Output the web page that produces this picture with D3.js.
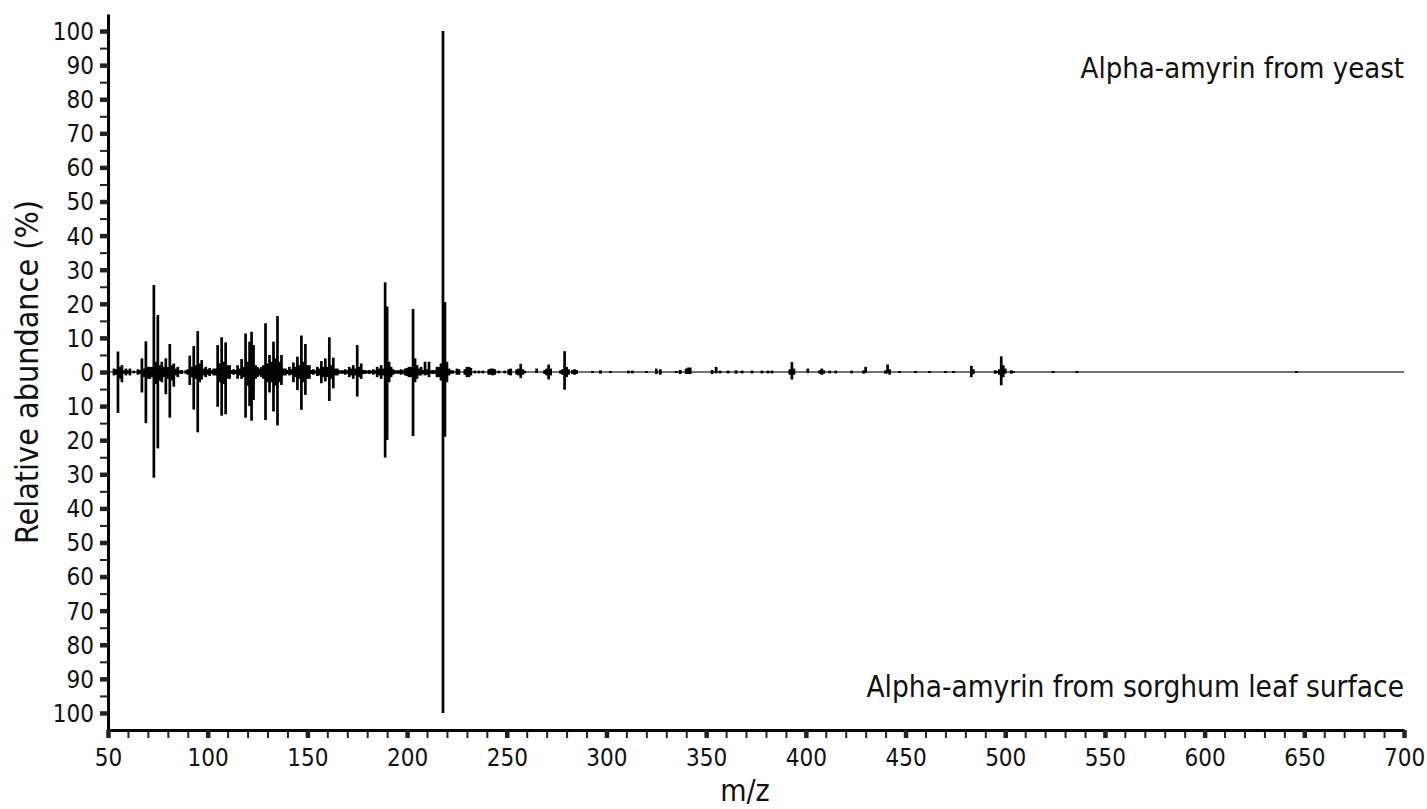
<!DOCTYPE html>
<html><head><meta charset="utf-8">
<script src="https://cdn.jsdelivr.net/npm/d3@7"></script>
<style>
html,body{margin:0;padding:0;background:#fff;}
svg{display:block;}
text{font-family:"Liberation Sans Narrow","DejaVu Sans Condensed","Arial Narrow",sans-serif;fill:#111;}
</style></head>
<body>
<svg id="chart" width="1427" height="809"></svg>
<script>
// m/z positions of peaks
const mzValues = [53,54,55,56,57,58,59,60,61,63,65,66,67,68,69,70,71,72,73,74,75,76,77,78,79,80,81,82,83,84,85,86,87,89,90,
91,92,93,94,95,96,97,98,99,100,101,102,103,104,105,106,107,108,109,110,111,112,113,114,115,116,117,118,119,120,121,122,123,124,
125,126,127,128,129,130,131,132,133,134,135,136,137,138,139,140,141,142,143,144,145,146,147,148,149,150,151,152,153,154,155,156,
157,158,159,160,161,162,163,164,165,166,167,168,169,170,171,172,173,174,175,176,177,178,179,180,181,182,183,184,185,186,187,188,
189,190,191,192,193,194,195,196,197,198,199,200,201,202,203,204,205,206,207,208,209,210,211,212,213,214,215,216,217,218,219,220,
221,222,223,225,226,229,230,231,232,234,236,238,241,242,243,244,246,249,251,252,255,256,257,258,259,265,269,270,271,272,277,278,
279,280,281,283,284,285,293,297,302,311,313,320,325,327,335,337,340,341,342,353,355,357,361,365,368,373,378,381,383,392,393,394,
401,407,408,409,412,415,423,429,430,440,441,442,447,455,462,470,474,483,484,495,496,497,498,499,500,503,504,524,536,646];
// Relative abundance (%) – alpha-amyrin from yeast (upper trace)
const yeastValues = [1,0.8,6,1.5,2,0.5,1,0.5,1,0.4,0.8,0.6,4,1,9,1.5,1.5,1.5,25.5,3,16.7,2,3,1.5,4,1.5,8.2,2,2.5,1,1.5,0.5,0.6,0.5,0.8,
4.8,1.5,7.6,2,12,2.5,3.5,1,1.5,0.8,1.2,0.5,1,1,7.9,2.5,10.2,3,8.7,2,2,0.6,0.8,0.6,2,1,3.8,1.5,11.3,3,8.9,11.8,7.9,2,
1.5,1,1.5,2,14.3,2.5,5,3,8.9,4,16.4,3,5,1,1,0.6,1.5,0.8,2.8,1.5,4.5,2,10.7,3,8.2,2,2,0.6,0.8,0.5,1.5,1,
3.2,1.5,4,1.5,10.2,2,4.2,1,1,0.5,0.5,0.5,0.8,0.5,1.5,1,2,1,7.9,1.5,2.5,0.6,0.6,0.4,0.6,0.4,0.8,0.5,1.5,1,2,1,
26.3,19.2,3,1.5,0.8,0.5,0.5,0.5,0.8,0.5,1,1.2,1.5,1.5,18.5,4,2,1,1.5,0.6,3,0.8,3,0.5,0.6,0.5,1.5,1.5,2.5,100,20.5,3,
1,0.5,0.5,1,0.8,0.8,1.5,1.5,1.2,0.4,0.4,0.4,0.8,1,1,0.8,0.4,0.4,0.8,1,0.8,1,2.4,0.8,0.4,1,0.6,1,2.2,1,0.5,0.8,
6.1,1.5,0.8,0.6,0.8,0.6,0.3,0.5,0.3,0.4,0.4,0.3,1,0.8,0.3,0.6,1,1.3,1.3,0.6,1.5,0.4,0.4,0.5,0.4,0.4,0.4,0.4,0.4,0.8,2.9,1,
1,0.5,1,0.5,0.4,0.4,0.4,0.5,1.5,0.5,2.2,0.8,0.3,0.3,0.3,0.3,0.3,1.8,0.8,0.5,0.3,0.8,4.6,2,1,0.5,0.3,0.3,0.3,0.3];
// Relative abundance (%) – alpha-amyrin from sorghum leaf surface (lower, mirrored trace)
const sorghumValues = [1,0.8,12,2,3,0.5,1,0.5,1,0.4,0.8,0.6,6,1.5,15,2,2,1.5,31,3.5,22.4,2.5,3,1.5,6.5,2,13.4,2.5,4.3,1,1.5,0.5,0.6,0.5,0.8,
3.8,1.5,11,2,17.7,3,2.2,1,1.5,0.8,1.2,0.5,1,1,10.2,3,12.8,3.5,12.4,2,2,0.6,0.8,0.6,2,1,2,1.5,13.4,4,10,14.3,8.2,2,
1.5,1,1.5,2,14.1,3,6,3,11.6,4,15.7,3,3.8,1,1,0.6,1,0.8,3,1.5,5.3,2,11.1,3,6.7,2,2,0.6,0.8,0.5,1.2,1,
3.3,1.5,2.8,1.5,8.5,2,4.8,1,1,0.5,0.5,0.5,0.8,0.5,1.5,1,2,1,7.2,1.5,2,0.6,0.6,0.4,0.6,0.4,0.8,0.5,1.5,1,2,1,
25.1,19.9,3,1.5,0.8,0.5,0.5,0.5,0.8,0.5,1,1.2,1.5,1.5,18.8,3,2,1,1,0.6,1,0.8,1.5,0.5,0.6,0.5,1.5,1.5,2.5,100,19,3,
1,0.5,0.5,0.8,0.8,0.8,1.5,1.5,1,0.4,0.4,0.4,0.8,0.8,1,0.8,0.4,0.4,0.8,1,0.8,1,1.8,0.8,0.4,0.3,0.6,1,2.2,1,0.5,0.8,
5.2,1.5,0.8,0.6,0.8,0.6,0.3,0.5,0.3,0.4,0.4,0.3,0.6,0.8,0.3,0.6,0.6,0.6,0.6,0.6,0.4,0.4,0.4,0.5,0.4,0.4,0.4,0.4,0.4,0.8,2.2,0.8,
0.3,0.5,0.8,0.5,0.4,0.4,0.4,0.5,0.3,0.5,0.4,0.8,0.3,0.3,0.3,0.3,0.3,1.5,0.6,0.5,0.3,0.8,3.9,1.5,0.5,0.5,0.3,0.3,0.3,0.3];

const xTickMajor = [50,100,150,200,250,300,350,400,450,500,550,600,650,700];
const yTickMajor = [-100,-90,-80,-70,-60,-50,-40,-30,-20,-10,0,10,20,30,40,50,60,70,80,90,100];
const upperLabel = "Alpha-amyrin from yeast";
const lowerLabel = "Alpha-amyrin from sorghum leaf surface";
const xTitle = "m/z";
const yTitle = "Relative abundance (%)";

const svg = d3.select("#chart");
const x = d3.scaleLinear().domain([50,700]).range([108,1404]);
const y = d3.scaleLinear().domain([-105,105]).range([730,14]);

const peaks = mzValues.map((m,i)=>({mz:m, up:yeastValues[i], down:sorghumValues[i]}));

// baseline
svg.append("line").attr("x1",x(50)+2).attr("x2",x(700)).attr("y1",y(0)).attr("y2",y(0))
  .attr("stroke","#444").attr("stroke-width",1.3);

const g = svg.append("g");
g.selectAll("line.up").data(peaks).join("line").attr("class","up")
  .attr("x1",d=>x(d.mz)).attr("x2",d=>x(d.mz))
  .attr("y1",y(0)+0.5).attr("y2",d=>y(d.up))
  .attr("stroke","#000").attr("stroke-width",2.7);
g.selectAll("line.down").data(peaks).join("line").attr("class","down")
  .attr("x1",d=>x(d.mz)).attr("x2",d=>x(d.mz))
  .attr("y1",y(0)-0.5).attr("y2",d=>y(-d.down))
  .attr("stroke","#000").attr("stroke-width",2.7);

// Y axis
const yMinor = yTickMajor.slice(0,-1).map(v=>v+5);
const yMinAx = svg.append("g").attr("transform",`translate(${x(50)},0)`)
  .call(d3.axisLeft(y).tickValues(yMinor).tickSize(8).tickFormat(""));
yMinAx.select(".domain").remove();
yMinAx.selectAll(".tick line").attr("stroke","#222").attr("stroke-width",2);
const yAx = svg.append("g").attr("transform",`translate(${x(50)},0)`)
  .call(d3.axisLeft(y).tickValues(yTickMajor).tickSize(8).tickSizeOuter(0).tickPadding(6).tickFormat(d=>Math.abs(d)));
yAx.select(".domain").attr("stroke","#000").attr("stroke-width",3);
yAx.selectAll(".tick line").attr("stroke","#222").attr("stroke-width",4.5);
yAx.selectAll(".tick text").attr("font-size",24).attr("font-family",null).attr("fill","#111").attr("dy","0.35em");

// X axis
const xMinor = d3.range(60,700,10).filter(v=>v%50!==0);
const xMinAx = svg.append("g").attr("transform",`translate(0,${y(-105)})`)
  .call(d3.axisBottom(x).tickValues(xMinor).tickSize(8).tickFormat(""));
xMinAx.select(".domain").remove();
xMinAx.selectAll(".tick line").attr("stroke","#222").attr("stroke-width",2);
const xAx = svg.append("g").attr("transform",`translate(0,${y(-105)})`)
  .call(d3.axisBottom(x).tickValues(xTickMajor).tickSize(8).tickSizeOuter(0).tickPadding(11));
xAx.select(".domain").attr("stroke","#000").attr("stroke-width",3);
xAx.selectAll(".tick line").attr("stroke","#222").attr("stroke-width",4.5);
xAx.selectAll(".tick text").attr("font-size",24).attr("font-family",null).attr("fill","#111");

// titles
svg.append("text").attr("x",x(700)).attr("y",78).attr("text-anchor","end")
  .attr("font-size",29).text(upperLabel);
svg.append("text").attr("x",x(700)).attr("y",697).attr("text-anchor","end")
  .attr("font-size",29.5).text(lowerLabel);
svg.append("text").attr("x",745).attr("y",801).attr("text-anchor","middle")
  .attr("font-size",30).text(xTitle);
svg.append("text").attr("transform",`translate(38,${y(0)}) rotate(-90)`).attr("text-anchor","middle")
  .attr("font-size",32).text(yTitle);
</script>
</body></html>
